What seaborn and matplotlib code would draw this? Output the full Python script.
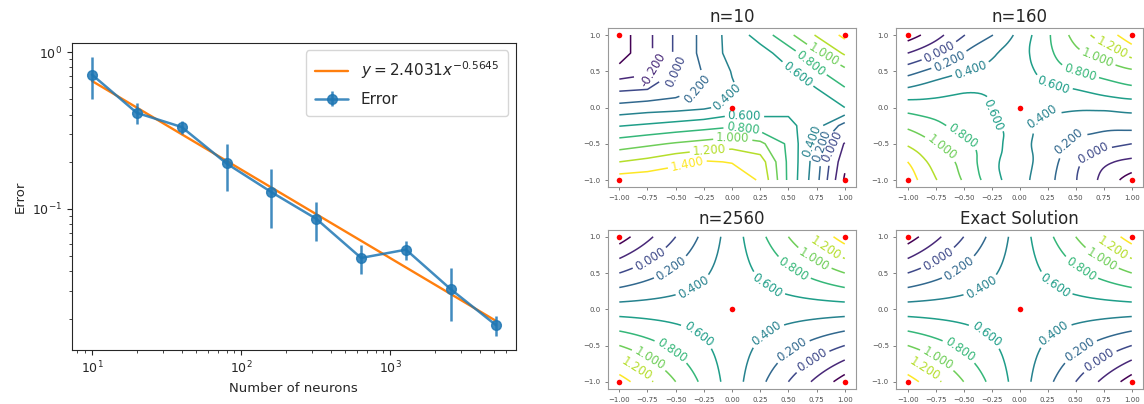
import numpy as np
import matplotlib
matplotlib.use("Agg")
import matplotlib.pyplot as plt
import matplotlib.tri as mtri
import seaborn as sns

# error of the network against its width
neurons = [10, 20, 40, 80, 160, 320, 640, 1280, 2560, 5120]
error = [0.719, 0.41, 0.333, 0.195, 0.128, 0.0865, 0.0487, 0.055, 0.0307, 0.0182]
error_std = [0.215, 0.063, 0.032, 0.065, 0.052, 0.024, 0.010, 0.0075, 0.0115, 0.0027]
fit_a = 2.4031
fit_b = -0.5645

# solution fields read on a 9x9 grid, rows from y=1 down to y=-1
grid_x = [-1, -0.75, -0.5, -0.25, 0, 0.25, 0.5, 0.75, 1]
grid_y = [1, 0.75, 0.5, 0.25, 0, -0.25, -0.5, -0.75, -1]

u_n10 = [
    [-0.5, -0.25, 0.03, 0.26, 0.48, 0.68, 0.95, 1.22, 1.45],
    [-0.5, -0.25, 0.03, 0.26, 0.47, 0.52, 0.7, 0.97, 1.23],
    [-0.33, -0.25, 0.0, 0.22, 0.41, 0.5, 0.57, 0.77, 0.94],
    [-0.03, 0.0, 0.09, 0.23, 0.38, 0.5, 0.53, 0.59, 0.78],
    [0.27, 0.31, 0.33, 0.37, 0.47, 0.52, 0.55, 0.57, 0.6],
    [0.59, 0.63, 0.675, 0.72, 0.77, 0.68, 0.65, 0.48, 0.12],
    [0.9, 0.96, 1.02, 1.07, 1.12, 1.05, 0.76, 0.3, -0.22],
    [1.2, 1.26, 1.35, 1.42, 1.39, 1.3, 0.76, 0.29, -0.35],
    [1.5, 1.52, 1.54, 1.55, 1.52, 1.38, 0.76, 0.26, -0.43],
]

u_n160 = [
    [-0.49, -0.28, -0.01, 0.19, 0.47, 0.77, 1.07, 1.3, 1.5],
    [-0.2, -0.02, 0.2, 0.37, 0.53, 0.75, 0.95, 1.09, 1.28],
    [0.12, 0.27, 0.39, 0.45, 0.52, 0.68, 0.8, 0.88, 0.97],
    [0.43, 0.51, 0.57, 0.56, 0.52, 0.56, 0.6, 0.68, 0.75],
    [0.72, 0.69, 0.67, 0.6, 0.5, 0.46, 0.43, 0.44, 0.47],
    [0.96, 0.85, 0.72, 0.63, 0.5, 0.33, 0.28, 0.25, 0.26],
    [1.17, 1.0, 0.85, 0.68, 0.48, 0.3, 0.16, 0.07, 0.0],
    [1.4, 1.13, 0.93, 0.66, 0.48, 0.29, 0.05, -0.15, -0.25],
    [1.52, 1.21, 0.98, 0.69, 0.47, 0.26, 0.01, -0.26, -0.5],
]

u_n2560 = [
    [-0.5, -0.25, 0.0, 0.25, 0.5, 0.75, 1.0, 1.25, 1.5],
    [-0.25, -0.062, 0.125, 0.312, 0.5, 0.688, 0.875, 1.062, 1.25],
    [0.0, 0.125, 0.25, 0.375, 0.5, 0.625, 0.75, 0.875, 1.0],
    [0.25, 0.312, 0.375, 0.438, 0.5, 0.562, 0.625, 0.688, 0.75],
    [0.5, 0.5, 0.5, 0.5, 0.5, 0.5, 0.5, 0.5, 0.5],
    [0.75, 0.688, 0.625, 0.562, 0.5, 0.438, 0.375, 0.312, 0.25],
    [1.0, 0.875, 0.75, 0.625, 0.5, 0.375, 0.25, 0.125, 0.0],
    [1.25, 1.062, 0.875, 0.688, 0.5, 0.312, 0.125, -0.062, -0.25],
    [1.5, 1.25, 1.0, 0.75, 0.5, 0.25, 0.0, -0.25, -0.5],
]

u_exact = [
    [-0.5, -0.25, 0.0, 0.25, 0.5, 0.75, 1.0, 1.25, 1.5],
    [-0.25, -0.062, 0.125, 0.312, 0.5, 0.688, 0.875, 1.062, 1.25],
    [0.0, 0.125, 0.25, 0.375, 0.5, 0.625, 0.75, 0.875, 1.0],
    [0.25, 0.312, 0.375, 0.438, 0.5, 0.562, 0.625, 0.688, 0.75],
    [0.5, 0.5, 0.5, 0.5, 0.5, 0.5, 0.5, 0.5, 0.5],
    [0.75, 0.688, 0.625, 0.562, 0.5, 0.438, 0.375, 0.312, 0.25],
    [1.0, 0.875, 0.75, 0.625, 0.5, 0.375, 0.25, 0.125, 0.0],
    [1.25, 1.062, 0.875, 0.688, 0.5, 0.312, 0.125, -0.062, -0.25],
    [1.5, 1.25, 1.0, 0.75, 0.5, 0.25, 0.0, -0.25, -0.5],
]

levels = [-0.4, -0.2, 0.0, 0.2, 0.4, 0.6, 0.8, 1.0, 1.2, 1.4]

# training points shown in red
pts_x = [-1, 1, -1, 1, 0]
pts_y = [1, 1, -1, -1, 0]

# where the contour labels sit (layout only)
labels_n10 = [(-0.67, 0.52), (-0.45, 0.40), (-0.30, 0.24), (-0.01, 0.08),
              (0.11, -0.11), (0.10, -0.26), (0.01, -0.38), (-0.20, -0.61),
              (-0.40, -0.76), (0.61, 0.52), (0.70, 0.61), (0.81, 0.72),
              (0.73, -0.49), (0.81, -0.54), (0.90, -0.54)]
labels_n160 = [(-0.71, 0.75), (-0.61, 0.59), (-0.43, 0.49), (-0.24, -0.10),
               (-0.51, -0.40), (-0.70, -0.56), (0.31, 0.36), (0.54, 0.49),
               (0.69, 0.68), (0.81, 0.79), (0.19, -0.10), (0.41, -0.40),
               (0.65, -0.61)]
labels_saddle = [(-0.71, 0.65), (-0.51, 0.49), (-0.32, 0.25), (0.31, 0.32),
                 (0.51, 0.47), (0.70, 0.62), (0.82, 0.82), (-0.26, -0.26),
                 (-0.49, -0.46), (-0.70, -0.60), (-0.83, -0.78),
                 (0.29, -0.30), (0.50, -0.48), (0.67, -0.61)]

sns.set_style("ticks")
plt.rcParams["font.family"] = ["DejaVu Sans"]

fig = plt.figure(figsize=(11.44, 4.04), dpi=100)

# ---- left: error against number of neurons
ax = fig.add_axes([0.0627, 0.134, 0.3883, 0.76])
fit = [fit_a * n ** fit_b for n in neurons]
sns.lineplot(x=neurons, y=fit, ax=ax, color="#ff7f0e", lw=1.7,
             label=r"$y = 2.4031x^{-0.5645}$", zorder=2)
ax.errorbar(neurons, error, yerr=error_std, fmt="-o", color="#1f77b4",
            lw=1.8, ms=7, elinewidth=1.8, alpha=0.85, label="Error", zorder=3)
ax.set_xscale("log")
ax.set_yscale("log")
ax.set_xlabel("Number of neurons", fontsize=9.5)
ax.set_ylabel("Error", fontsize=9.5)
ax.tick_params(labelsize=9)
ax.legend(loc="upper right", fontsize=11, handlelength=2.2, borderpad=0.6,
          labelspacing=0.7)

# ---- right: contour plots
X, Y = np.meshgrid(grid_x, grid_y)
tri = mtri.Triangulation(X.ravel(), Y.ravel())
refiner = mtri.UniformTriRefiner(tri)

panels = [
    ("n=10", u_n10, labels_n10, [0.5315, 0.5365, 0.2168, 0.3948], False),
    ("n=160", u_n160, labels_n160, [0.7836, 0.5365, 0.2155, 0.3948], True),
    ("n=2560", u_n2560, labels_saddle, [0.5315, 0.0371, 0.2168, 0.3948], True),
    ("Exact Solution", u_exact, labels_saddle, [0.7836, 0.0371, 0.2155, 0.3948], True),
]

for title, u, lab_pos, rect, smooth in panels:
    cax = fig.add_axes(rect)
    Z = np.array(u)
    if smooth:
        tri_f, z_f = refiner.refine_field(Z.ravel(), subdiv=3)
        cs = cax.tricontour(tri_f, z_f, levels=levels, cmap="viridis",
                            vmin=-0.4, vmax=1.4, linewidths=1.1)
    else:
        cs = cax.contour(X, Y, Z, levels=levels, cmap="viridis",
                         vmin=-0.4, vmax=1.4, linewidths=1.1)
    cax.clabel(cs, inline=True, fontsize=8.5, fmt="%1.3f", manual=lab_pos)
    sns.scatterplot(x=pts_x, y=pts_y, ax=cax, color="red", s=16,
                    linewidth=0, zorder=4)
    cax.set_xlim(-1.1, 1.1)
    cax.set_ylim(-1.1, 1.1)
    cax.set_xticks(np.arange(-1, 1.01, 0.25))
    cax.set_yticks(np.arange(-1, 1.01, 0.5))
    cax.tick_params(labelsize=5, length=2, width=0.5, colors="0.3")
    for sp in cax.spines.values():
        sp.set_color("0.6")
    cax.set_title(title, fontsize=12, pad=4)

fig.savefig("out.png", dpi=100)
